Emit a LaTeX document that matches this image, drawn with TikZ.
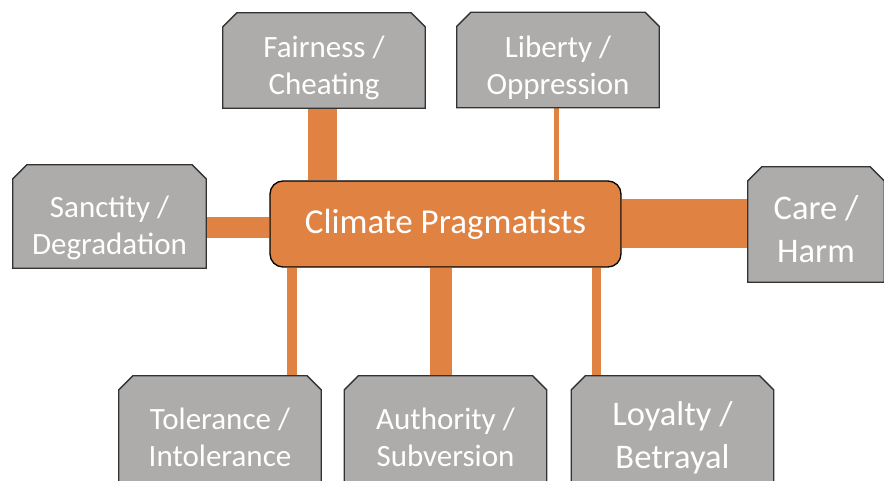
\documentclass[tikz,border=0pt]{standalone}
\usepackage{fontspec}
\setmainfont{Carlito}
\usetikzlibrary{backgrounds,positioning}

\definecolor{prag}{RGB}{224,130,66}
\definecolor{foundgray}{RGB}{173,172,171}
\definecolor{edgegray}{RGB}{50,50,50}

\begin{document}
\begin{tikzpicture}[x=1pt,y=1pt,
		found/.style={inner sep=0pt,minimum width=202pt,minimum height=95pt},
		foundtxt/.style={text=white,align=center,yshift=-7.5pt,font=\fontsize{31}{37}\selectfont},
		bigtxt/.style={font=\fontsize{34.5}{43}\selectfont},
		snip/.style={draw=edgegray,line width=1.3pt,fill=foundgray,line join=miter},
		link/.style={draw=prag,line width=#1}]
		\useasboundingbox (0,0) rectangle (884,481);
		\node[draw=black,line width=1.3pt,fill=prag,rounded corners=13pt,minimum width=351pt,
			minimum height=86pt,text=white,font=\fontsize{35}{40}\selectfont] (cp) at (445.5,257) {Climate Pragmatists};
		\node[found,label={[foundtxt]center:Fairness /\\Cheating}] (fair) at (324,420.5) {};
		\node[found,label={[foundtxt]center:Liberty /\\Oppression}] (lib) at (558,421) {};
		\node[found,minimum width=193pt,minimum height=103pt,
			label={[foundtxt,yshift=-4pt]center:Sanctity /\\Degradation}] (sanc) at (109.5,264.5) {};
		\node[found,minimum width=136pt,minimum height=115pt,
			label={[foundtxt,bigtxt,yshift=3pt]center:Care /\\Harm}] (care) at (816,256.5) {};
		\node[found,minimum height=122pt,label={[foundtxt,yshift=7pt]center:Tolerance /\\Intolerance}] (tol) at (220,44) {};
		\node[found,minimum height=122pt,label={[foundtxt,yshift=7pt]center:Authority /\\Subversion}] (auth) at (445.5,44) {};
		\node[found,minimum height=122pt,label={[foundtxt,bigtxt,yshift=7pt]center:Loyalty /\\Betrayal}] (loy) at (672.5,44) {};
		\begin{pgfonlayer}{background}
			% connectors
			\draw[link=29pt] ([xshift=53.5pt]cp.north west) -- ([xshift=53.5pt]cp.north west |- fair.south);
			\draw[link=5pt] ([xshift=-65.5pt]cp.north east) -- ([xshift=-65.5pt]cp.north east |- lib.south);
			\draw[link=21pt] ([yshift=-3.5pt]cp.west) -- ([yshift=-3.5pt]cp.west -| sanc.east);
			\draw[link=49pt] (cp.east) -- (cp.east -| care.west);
			\draw[link=10pt] ([xshift=23pt]cp.south west) -- ([xshift=23pt]cp.south west |- tol.north);
			\draw[link=22pt] ([xshift=-4.5pt]cp.south) -- ([xshift=-4.5pt]cp.south |- auth.north);
			\draw[link=9pt] ([xshift=-25.5pt]cp.south east) -- ([xshift=-25.5pt]cp.south east |- loy.north);
			% boxes with snipped top corners
			\foreach \b in {fair,lib,sanc,care,tol,auth,loy}
				\draw[snip] (\b.south west) -- ([yshift=-14pt]\b.north west) -- ([xshift=14pt]\b.north west)
					-- ([xshift=-14pt]\b.north east) -- ([yshift=-14pt]\b.north east) -- (\b.south east) -- cycle;
		\end{pgfonlayer}
	\end{tikzpicture}
\end{document}
